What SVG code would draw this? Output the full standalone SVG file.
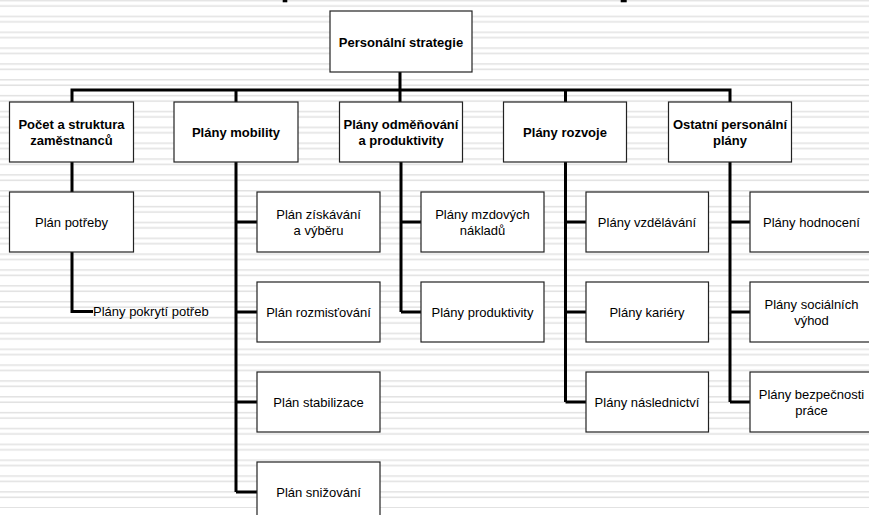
<svg xmlns="http://www.w3.org/2000/svg" width="869" height="515" viewBox="0 0 869 515">
<defs>
<pattern id="stripes" patternUnits="userSpaceOnUse" x="0" y="-0.2" width="20" height="15.85">
<rect x="0" y="0" width="20" height="1.5" fill="#e2e2e2"/>
<rect x="0" y="5.4" width="20" height="1.6" fill="#e2e2e2"/>
</pattern>
</defs>
<style>
.box{fill:#ffffff;stroke:#222222;stroke-width:1.2}
.t{font-family:"Liberation Sans",Arial,sans-serif;font-size:13px;fill:#000000;text-anchor:middle}
.b{font-weight:bold}
.lbl{font-family:"Liberation Sans",Arial,sans-serif;font-size:13px;fill:#000000}
.c{fill:none;stroke:#000000;stroke-width:3}
</style>
<rect x="0" y="0" width="869" height="515" fill="#ffffff"/>
<rect x="0" y="0" width="869" height="508" fill="url(#stripes)"/>
<rect x="282.7" y="0" width="4.6" height="2.3" fill="#000000"/>
<rect x="620.7" y="0" width="6" height="2.3" fill="#000000"/>
<g id="connectors">
<path class="c" d="M400,72 V90 M72,102 V90 H730 V102 M236,90 V102 M400,90 V102 M565.5,90 V102"/>
<path class="c" d="M72,162 V192 M72,252 V311.5 H93"/>
<path class="c" d="M236,162 V492 M236,222 H257 M236,312 H257 M236,402 H257 M236,492 H257"/>
<path class="c" d="M401,162 V312 M401,222 H421 M401,312 H421"/>
<path class="c" d="M565.5,162 V402 M565.5,222 H586 M565.5,312 H586 M565.5,402 H586"/>
<path class="c" d="M730,162 V402 M730,222 H750 M730,312 H750 M730,402 H750"/>
</g>
<g id="root"><rect class="box" x="330" y="11" width="142" height="61"/><text class="t b" x="401" y="47">Personální strategie</text></g>
<g id="n1"><rect class="box" x="9.5" y="102" width="124" height="60"/><text class="t b" x="71.5" y="129">Počet a struktura</text><text class="t b" x="71.5" y="145">zaměstnanců</text></g>
<g id="n2"><rect class="box" x="174" y="102" width="124" height="60"/><text class="t b" x="236" y="137">Plány mobility</text></g>
<g id="n3"><rect class="box" x="339.5" y="102" width="123" height="60"/><text class="t b" x="401" y="129">Plány odměňování</text><text class="t b" x="401" y="145">a produktivity</text></g>
<g id="n4"><rect class="box" x="503.5" y="102" width="123" height="60"/><text class="t b" x="565" y="137">Plány rozvoje</text></g>
<g id="n5"><rect class="box" x="668.5" y="102" width="123" height="60"/><text class="t b" x="730" y="129">Ostatní personální</text><text class="t b" x="730" y="145">plány</text></g>
<g id="n1a"><rect class="box" x="9.5" y="192" width="124" height="60"/><text class="t" x="71.5" y="227">Plán potřeby</text></g>
<g id="n1b"><text class="lbl" x="93" y="316">Plány pokrytí potřeb</text></g>
<g id="n2a"><rect class="box" x="257" y="192" width="123" height="60"/><text class="t" x="318.5" y="219">Plán získávání</text><text class="t" x="318.5" y="235">a výběru</text></g>
<g id="n2b"><rect class="box" x="257" y="282" width="123" height="60"/><text class="t" x="318.5" y="317">Plán rozmisťování</text></g>
<g id="n2c"><rect class="box" x="257" y="372" width="123" height="60"/><text class="t" x="318.5" y="407">Plán stabilizace</text></g>
<g id="n2d"><rect class="box" x="257" y="462" width="123" height="60"/><text class="t" x="318.5" y="497">Plán snižování</text></g>
<g id="n3a"><rect class="box" x="421" y="192" width="123" height="60"/><text class="t" x="482.5" y="219">Plány mzdových</text><text class="t" x="482.5" y="235">nákladů</text></g>
<g id="n3b"><rect class="box" x="421" y="282" width="123" height="60"/><text class="t" x="482.5" y="317">Plány produktivity</text></g>
<g id="n4a"><rect class="box" x="586" y="192" width="122.5" height="60"/><text class="t" x="647" y="227">Plány vzdělávání</text></g>
<g id="n4b"><rect class="box" x="586" y="282" width="122.5" height="60"/><text class="t" x="647" y="317">Plány kariéry</text></g>
<g id="n4c"><rect class="box" x="586" y="372" width="122.5" height="60"/><text class="t" x="647" y="407">Plány následnictví</text></g>
<g id="n5a"><rect class="box" x="750" y="192" width="124" height="60"/><text class="t" x="811.5" y="227">Plány hodnocení</text></g>
<g id="n5b"><rect class="box" x="750" y="282" width="124" height="60"/><text class="t" x="811.5" y="309">Plány sociálních</text><text class="t" x="811.5" y="325">výhod</text></g>
<g id="n5c"><rect class="box" x="750" y="372" width="124" height="60"/><text class="t" x="811.5" y="399">Plány bezpečnosti</text><text class="t" x="811.5" y="415">práce</text></g>
</svg>
